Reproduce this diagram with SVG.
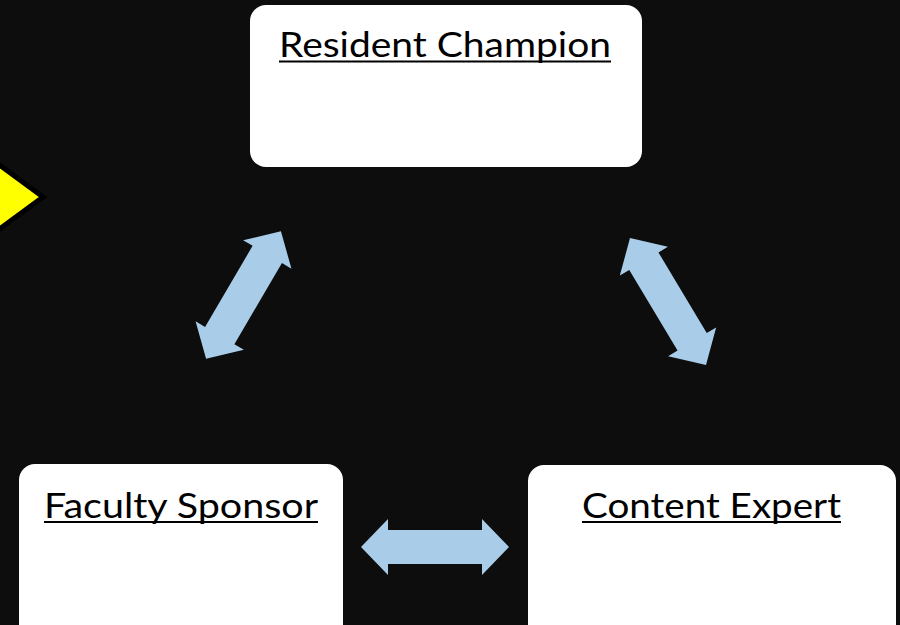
<svg xmlns="http://www.w3.org/2000/svg" width="900" height="625" viewBox="0 0 900 625">
<style>
.box{fill:#ffffff;}
.lbl{font-family:Lato,"Open Sans","Liberation Sans",sans-serif;font-size:35px;fill:#000000;}
.ul{stroke:#000000;stroke-width:2;}
.arr{fill:#A9CDE9;}
</style>
<defs>
<path id="dbl" d="M -74 0 L -47 -28 L -47 -17 L 47 -17 L 47 -28 L 74 0 L 47 28 L 47 17 L -47 17 L -47 28 Z"/>
</defs>
<rect width="900" height="625" fill="#0d0d0d"/>
<g id="pointer">
<polygon points="-10,158 43,197 -10,236" fill="#FFFF00" stroke="#000000" stroke-width="5" stroke-linejoin="miter"/>
</g>
<g id="connectors">
<use href="#dbl" class="arr" transform="translate(243.5,295) rotate(-59.6)"/>
<use href="#dbl" class="arr" transform="translate(668,301.5) rotate(59.1)"/>
<use href="#dbl" class="arr" transform="translate(435,547)"/>
</g>
<g id="resident-champion">
<rect class="box" x="250" y="5" width="392" height="162" rx="16"/>
<text class="lbl" x="279" y="57" textLength="332" lengthAdjust="spacingAndGlyphs">Resident Champion</text>
<line class="ul" x1="279" y1="61.5" x2="611" y2="61.5"/>
</g>
<g id="faculty-sponsor">
<rect class="box" x="19" y="464" width="324" height="180" rx="16"/>
<text class="lbl" x="44" y="518" textLength="274" lengthAdjust="spacingAndGlyphs">Faculty Sponsor</text>
<line class="ul" x1="44" y1="522" x2="318" y2="522"/>
</g>
<g id="content-expert">
<rect class="box" x="528" y="465" width="368" height="180" rx="16"/>
<text class="lbl" x="582" y="518" textLength="259" lengthAdjust="spacingAndGlyphs">Content Expert</text>
<line class="ul" x1="582" y1="522" x2="841" y2="522"/>
</g>
</svg>
